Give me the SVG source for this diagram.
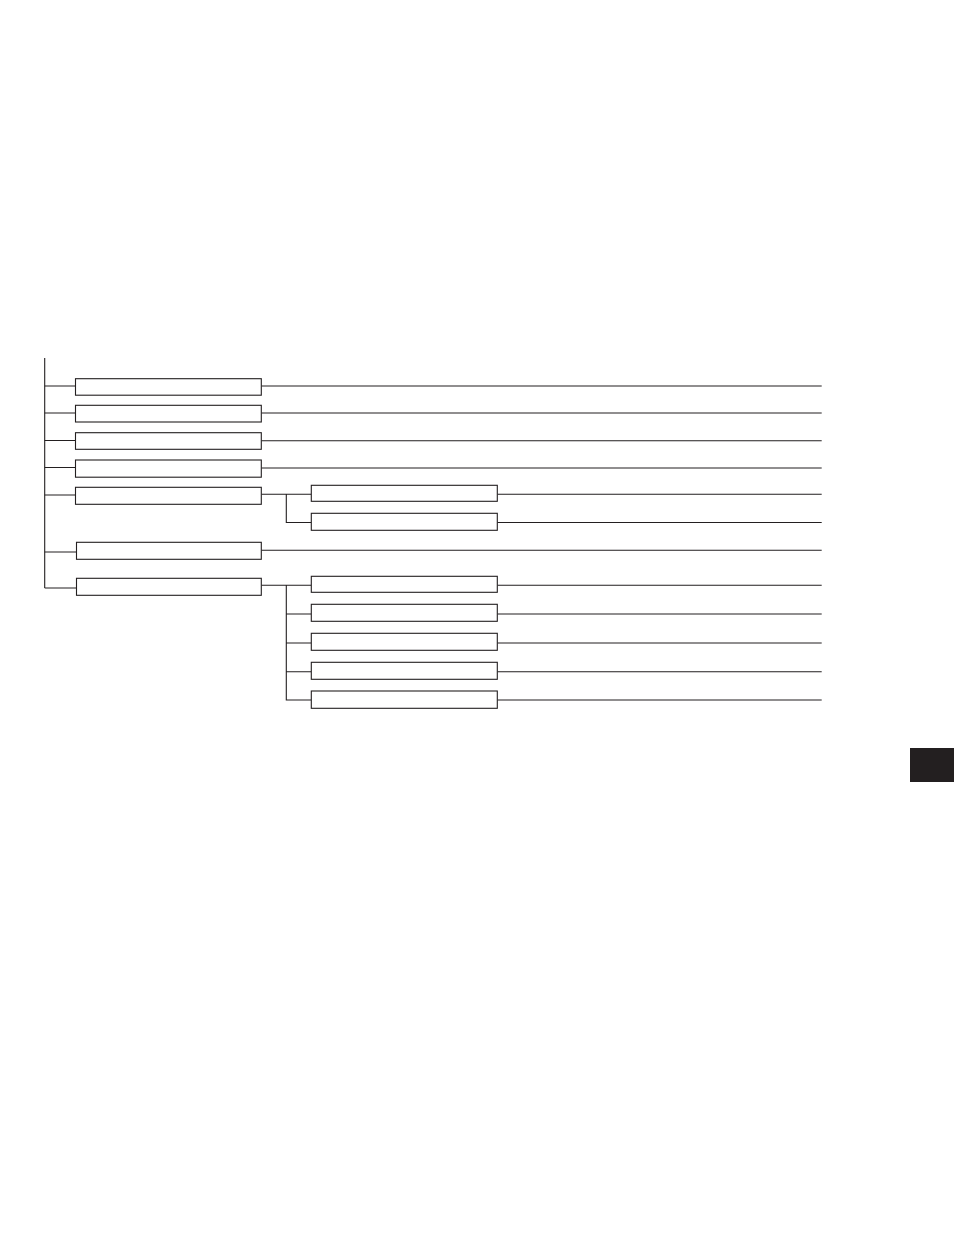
<svg xmlns="http://www.w3.org/2000/svg" width="954" height="1235" viewBox="0 0 954 1235">
<style>
.n{fill:#fff;stroke:#231f20;stroke-width:1.1}
.c{fill:none;stroke:#231f20;stroke-width:1.1}
</style>
<rect width="954" height="1235" fill="#fff"/>
<g id="connectors">
<path class="c" d="M44.7,358 V588"/>
<path class="c" d="M44.7,386 H75.5 M44.7,413 H75.5 M44.7,440.5 H75.5 M44.7,467.5 H75.5 M44.7,495 H75.5 M44.7,552 H76.5 M44.7,588 H76.5"/>
<path class="c" d="M261.3,386 H821.7 M261.3,413 H821.7 M261.3,440.7 H821.7 M261.3,468 H821.7 M261.3,550.3 H821.7"/>
<path class="c" d="M261.3,494.3 H311.3 M286.3,494.3 V522.5 H311.3"/>
<path class="c" d="M261.3,585.3 H311.3 M286.3,585.3 V700 H311.3 M286.3,614 H311.3 M286.3,643 H311.3 M286.3,671.7 H311.3"/>
<path class="c" d="M497.3,494.3 H821.7 M497.3,522.5 H821.7 M497.3,585.3 H821.7 M497.3,614 H821.7 M497.3,643 H821.7 M497.3,671.7 H821.7 M497.3,700 H821.7"/>
</g>
<g id="n1"><rect class="n" x="75.5" y="378.7" width="185.8" height="16.5"/></g>
<g id="n2"><rect class="n" x="75.5" y="405.3" width="185.8" height="16.7"/></g>
<g id="n3"><rect class="n" x="75.5" y="432.7" width="185.8" height="16.6"/></g>
<g id="n4"><rect class="n" x="75.5" y="460" width="185.8" height="17.2"/></g>
<g id="n5"><rect class="n" x="75.5" y="487.3" width="185.8" height="17"/></g>
<g id="n6"><rect class="n" x="76.5" y="542.3" width="184.8" height="17"/></g>
<g id="n7"><rect class="n" x="76.5" y="578.3" width="184.8" height="17"/></g>
<g id="s1"><rect class="n" x="311.3" y="485.3" width="186" height="16"/></g>
<g id="s2"><rect class="n" x="311.3" y="513.3" width="186" height="17"/></g>
<g id="s3"><rect class="n" x="311.3" y="576.3" width="186" height="16"/></g>
<g id="s4"><rect class="n" x="311.3" y="604.3" width="186" height="17"/></g>
<g id="s5"><rect class="n" x="311.3" y="633.3" width="186" height="17"/></g>
<g id="s6"><rect class="n" x="311.3" y="662.3" width="186" height="17"/></g>
<g id="s7"><rect class="n" x="311.3" y="691" width="186" height="17.3"/></g>
<g id="tab"><rect x="910" y="748" width="44" height="34" fill="#231f20"/></g>
</svg>
